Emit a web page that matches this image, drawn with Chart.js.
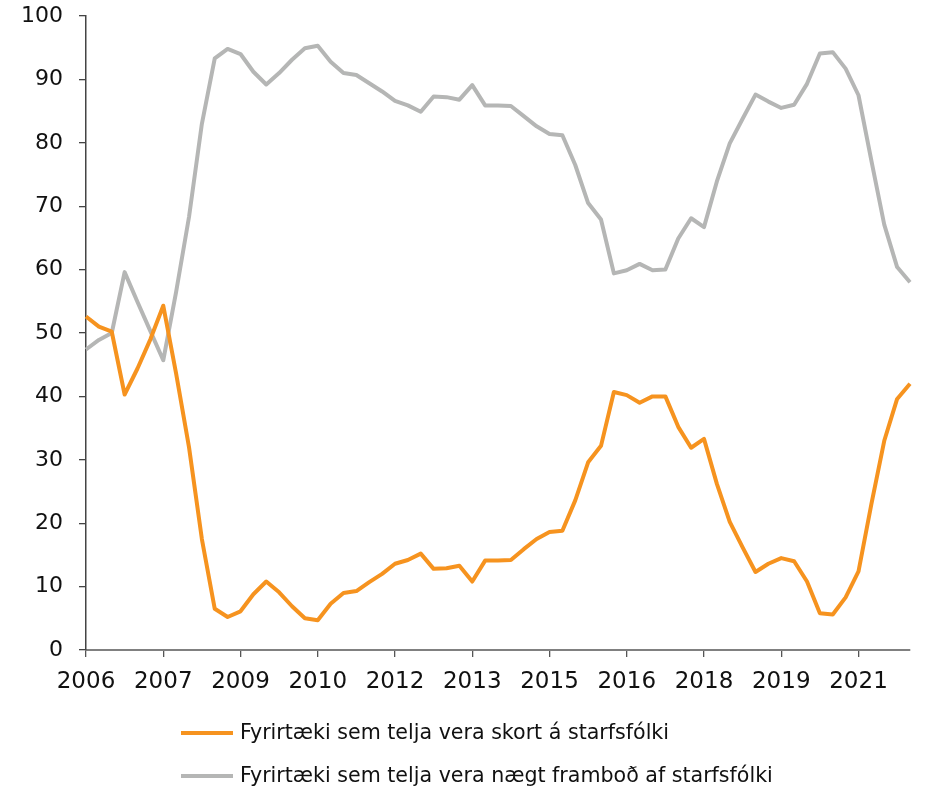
<!DOCTYPE html>
<html lang="is">
<head>
<meta charset="utf-8">
<title>Skortur á starfsfólki</title>
<script src="https://cdn.jsdelivr.net/npm/chart.js@4.4.1/dist/chart.umd.min.js"></script>
<style>
  html, body { margin: 0; padding: 0; background: #ffffff; }
  #wrap { position: relative; width: 927px; height: 789px; }
</style>
</head>
<body>
<div id="wrap"><canvas id="chart" width="927" height="789"></canvas></div>
<script>
// Quarterly survey periods, 2006Q1 – 2022Q1
const quarters = [
  '2006Q1','2006Q2','2006Q3','2006Q4','2007Q1','2007Q2','2007Q3','2007Q4',
  '2008Q1','2008Q2','2008Q3','2008Q4','2009Q1','2009Q2','2009Q3','2009Q4',
  '2010Q1','2010Q2','2010Q3','2010Q4','2011Q1','2011Q2','2011Q3','2011Q4',
  '2012Q1','2012Q2','2012Q3','2012Q4','2013Q1','2013Q2','2013Q3','2013Q4',
  '2014Q1','2014Q2','2014Q3','2014Q4','2015Q1','2015Q2','2015Q3','2015Q4',
  '2016Q1','2016Q2','2016Q3','2016Q4','2017Q1','2017Q2','2017Q3','2017Q4',
  '2018Q1','2018Q2','2018Q3','2018Q4','2019Q1','2019Q2','2019Q3','2019Q4',
  '2020Q1','2020Q2','2020Q3','2020Q4','2021Q1','2021Q2','2021Q3','2021Q4',
  '2022Q1'
];

// Year labels shown on every sixth quarter
const tickYears = ['2006','2007','2009','2010','2012','2013','2015','2016','2018','2019','2021'];
const tickEvery = 6;

// Share of firms reporting a shortage of staff (%)
const skortur = [
  52.6, 51.0, 50.2, 40.3, 44.4, 49.0, 54.3, 43.6, 32.0, 17.5,
   6.5,  5.2,  6.1,  8.8, 10.8,  9.1,  6.9,  5.0,  4.7,  7.3,
   9.0,  9.3, 10.7, 12.0, 13.6, 14.2, 15.2, 12.8, 12.9, 13.3,
  10.8, 14.1, 14.1, 14.2, 15.9, 17.5, 18.6, 18.8, 23.6, 29.6,
  32.2, 40.7, 40.2, 39.0, 40.0, 40.0, 35.2, 31.9, 33.3, 26.2,
  20.2, 16.2, 12.3, 13.6, 14.5, 14.0, 10.8,  5.8,  5.6,  8.3,
  12.4, 23.0, 33.0, 39.6, 42.0
];

// Share of firms reporting an adequate supply of staff (%)
const naegt = [
  47.4, 48.9, 50.0, 59.6, 54.9, 50.3, 45.7, 56.5, 68.3, 83.0,
  93.3, 94.8, 94.0, 91.2, 89.2, 91.0, 93.1, 94.9, 95.3, 92.8,
  91.0, 90.7, 89.4, 88.1, 86.6, 85.9, 84.9, 87.3, 87.2, 86.8,
  89.1, 85.9, 85.9, 85.8, 84.2, 82.6, 81.4, 81.2, 76.5, 70.5,
  67.9, 59.4, 59.9, 60.9, 59.9, 60.0, 64.9, 68.1, 66.7, 73.9,
  79.9, 83.8, 87.6, 86.5, 85.5, 86.0, 89.3, 94.1, 94.3, 91.7,
  87.5, 77.2, 67.1, 60.4, 58.0
];

const seriesNames = [
  'Fyrirtæki sem telja vera skort á starfsfólki',
  'Fyrirtæki sem telja vera nægt framboð af starfsfólki'
];

const ORANGE = '#F6931F';
const GREY = '#B5B6B5';
const FONT = '"DejaVu Sans", "Liberation Sans", sans-serif';

// Legend stacked in two left-aligned rows under the axis
const stackedLegend = {
  id: 'stackedLegend',
  afterDraw(chart) {
    const ctx = chart.ctx;
    const x0 = 181, lineLen = 52, gap = 7, y0 = 733, rowGap = 43;
    ctx.save();
    chart.data.datasets.forEach((ds, i) => {
      const y = y0 + i * rowGap;
      ctx.strokeStyle = ds.borderColor;
      ctx.lineWidth = 4;
      ctx.lineCap = 'butt';
      ctx.beginPath();
      ctx.moveTo(x0, y);
      ctx.lineTo(x0 + lineLen, y);
      ctx.stroke();
      ctx.fillStyle = '#111111';
      ctx.font = '20.6px ' + FONT;
      ctx.textAlign = 'left';
      ctx.textBaseline = 'middle';
      ctx.fillText(ds.label, x0 + lineLen + gap, y + 1);
    });
    ctx.restore();
  }
};

new Chart(document.getElementById('chart'), {
  type: 'line',
  data: {
    labels: quarters,
    datasets: [
      {
        label: seriesNames[0],
        data: skortur,
        borderColor: ORANGE,
        backgroundColor: ORANGE,
        borderWidth: 4,
        borderJoinStyle: 'round',
        pointRadius: 0,
        tension: 0
      },
      {
        label: seriesNames[1],
        data: naegt,
        borderColor: GREY,
        backgroundColor: GREY,
        borderWidth: 4,
        borderJoinStyle: 'round',
        pointRadius: 0,
        tension: 0
      }
    ]
  },
  options: {
    responsive: false,
    animation: false,
    devicePixelRatio: 1,
    layout: { padding: { top: 16, right: 17, left: 0, bottom: 0 } },
    plugins: {
      legend: { display: false },
      tooltip: { enabled: false }
    },
    scales: {
      x: {
        type: 'category',
        offset: false,
        border: { display: true, color: '#808080', width: 2 },
        grid: {
          drawOnChartArea: false,
          drawTicks: true,
          tickLength: 7,
          color: '#555555',
          lineWidth: 1.3
        },
        ticks: {
          autoSkip: false,
          maxRotation: 0,
          minRotation: 0,
          padding: 11,
          color: '#111111',
          font: { family: FONT, size: 23 },
          callback(value, index) {
            if (index % tickEvery !== 0) return null;
            return tickYears[index / tickEvery];
          }
        },
        afterFit(scale) {
          scale.height = 139;
          scale.paddingLeft = 0;
          scale.paddingRight = 0;
        }
      },
      y: {
        min: 0,
        max: 100,
        border: { display: true, color: '#444444', width: 1.5 },
        grid: {
          drawOnChartArea: false,
          drawTicks: true,
          tickLength: 7,
          color: '#444444',
          lineWidth: 1.3
        },
        ticks: {
          stepSize: 10,
          padding: 16,
          color: '#111111',
          font: { family: FONT, size: 22 }
        },
        afterFit(scale) {
          scale.width = 86;
          scale.paddingTop = 0;
          scale.paddingBottom = 0;
        }
      }
    }
  },
  plugins: [stackedLegend]
});
</script>
</body>
</html>
